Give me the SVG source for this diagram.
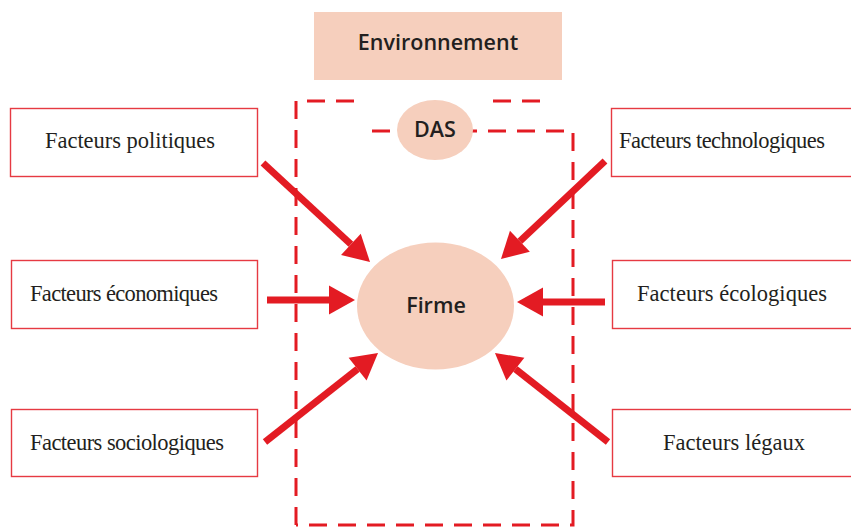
<svg xmlns="http://www.w3.org/2000/svg" width="851" height="527" viewBox="0 0 851 527">
  <style>
    .box { fill: #ffffff; stroke: #e63a42; stroke-width: 1.4; }
    .peach { fill: #f6cfbd; }
    .serif { font-family: "Liberation Serif", "Times New Roman", serif; font-size: 22.5px; fill: #231f20; }
    .sans { font-family: "Open Sans", "DejaVu Sans", sans-serif; font-weight: 600; font-size: 21.5px; fill: #231f20; text-anchor: middle; }
    .dash { fill: none; stroke: #e31b23; stroke-width: 3; stroke-dasharray: 18 11; }
    .arrow { stroke: #e31b23; stroke-width: 7; fill: none; marker-end: url(#head); }
  </style>
  <defs>
    <marker id="head" markerUnits="userSpaceOnUse" markerWidth="30" markerHeight="32" viewBox="0 -16 27 32" refX="0" refY="0" orient="auto">
      <path d="M0,-14.5 L26,0 L0,14.5 Z" fill="#e31b23"/>
    </marker>
  </defs>

  <rect width="851" height="527" fill="#ffffff"/>

  <!-- environment banner -->
  <g id="environnement">
    <rect class="peach" x="314" y="12" width="248" height="68"/>
    <text class="sans" x="438" y="50">Environnement</text>
  </g>

  <!-- dashed strategic business area boundary -->
  <g id="das-boundary">
    <path class="dash" d="M296,525 V101 H362"/>
    <path class="dash" d="M493,101 H542"/>
    <path class="dash" d="M372,131 H573 V525 H296"/>
  </g>

  <g id="das">
    <ellipse class="peach" cx="435" cy="130" rx="38" ry="30"/>
    <text class="sans" x="435" y="137">DAS</text>
  </g>

  <g id="firme">
    <ellipse class="peach" cx="435.5" cy="306" rx="78.5" ry="63.5"/>
    <text class="sans" x="436" y="313">Firme</text>
  </g>

  <!-- factor boxes -->
  <g id="politiques">
    <rect class="box" x="10.5" y="108.5" width="247" height="68"/>
    <text class="serif" x="45" y="148" textLength="170">Facteurs politiques</text>
  </g>
  <g id="economiques">
    <rect class="box" x="11.5" y="260.5" width="246" height="68"/>
    <text class="serif" x="30" y="301" textLength="188">Facteurs économiques</text>
  </g>
  <g id="sociologiques">
    <rect class="box" x="11.5" y="409.5" width="246" height="67"/>
    <text class="serif" x="30" y="450" textLength="194">Facteurs sociologiques</text>
  </g>
  <g id="technologiques">
    <rect class="box" x="611.5" y="108.5" width="250" height="68"/>
    <text class="serif" x="619" y="148" textLength="206">Facteurs technologiques</text>
  </g>
  <g id="ecologiques">
    <rect class="box" x="612.5" y="260.5" width="250" height="68"/>
    <text class="serif" x="637" y="301" textLength="190">Facteurs écologiques</text>
  </g>
  <g id="legaux">
    <rect class="box" x="612.5" y="409.5" width="250" height="67"/>
    <text class="serif" x="663" y="450" textLength="142">Facteurs légaux</text>
  </g>

  <!-- influence arrows towards the firm -->
  <g id="connectors">
    <line class="arrow" x1="263" y1="163" x2="350.9" y2="244.3"/>
    <line class="arrow" x1="267" y1="300" x2="329" y2="300"/>
    <line class="arrow" x1="265" y1="442" x2="357.6" y2="369.1"/>
    <line class="arrow" x1="605" y1="161" x2="519.9" y2="241.2"/>
    <line class="arrow" x1="605" y1="302" x2="543" y2="302"/>
    <line class="arrow" x1="608" y1="442" x2="515.4" y2="369.1"/>
  </g>
</svg>
